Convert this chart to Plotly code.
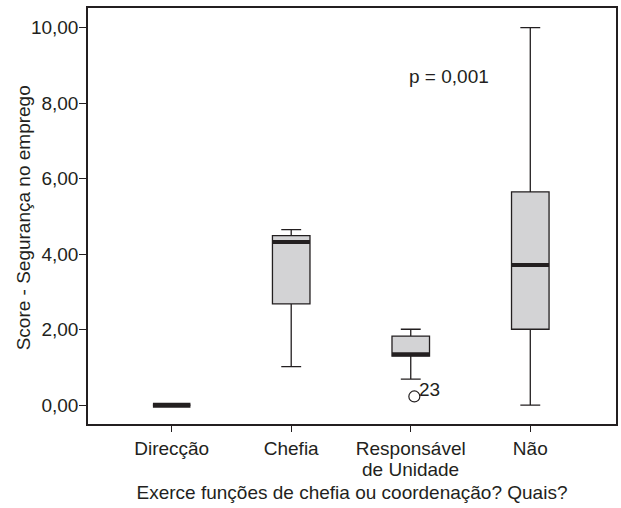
import plotly.graph_objects as go

categories = ["Direcção", "Chefia", "Responsável<br>de Unidade", "Não"]
lower_whisker = [0.0, 1.02, 0.69, 0.0]
q1 = [0.0, 2.68, 1.30, 2.01]
median = [0.0, 4.32, 1.35, 3.71]
q3 = [0.0, 4.49, 1.83, 5.65]
upper_whisker = [0.0, 4.65, 2.01, 10.0]
outlier_cat = ["Responsável<br>de Unidade"]
outlier_val = [0.23]
outlier_lbl = ["23"]
y_ticks = [0, 2, 4, 6, 8, 10]
p_text = "p = 0,001"
x_title = "Exerce funções de chefia ou coordenação? Quais?"
y_title = "Score - Segurança no emprego"

FONT = "Liberation Sans, Arial, sans-serif"
INK = "#231f20"
BOXW = 0.314
FS = 19

fig = go.Figure()
fig.add_trace(go.Box(
    x=categories, q1=q1, median=median, q3=q3,
    lowerfence=lower_whisker, upperfence=upper_whisker,
    fillcolor="#d3d3d5", line=dict(color=INK, width=1.3),
    width=BOXW, whiskerwidth=0.53, boxpoints=False, showlegend=False,
    hoverinfo="skip",
))
# thick median bars
for i, m in enumerate(median):
    w = 5 if q1[i] == q3[i] else 4
    fig.add_trace(go.Scatter(
        x=[i - BOXW / 2, i + BOXW / 2], y=[m, m], mode="lines",
        line=dict(color=INK, width=w), showlegend=False, hoverinfo="skip",
        xaxis="x2",
    ))
out_x = [categories.index(c) + 0.03 for c in outlier_cat]
fig.add_trace(go.Scatter(
    x=out_x, y=outlier_val, mode="markers", xaxis="x2",
    marker=dict(symbol="circle-open", size=11, color=INK, line=dict(width=1.2)),
    showlegend=False, hoverinfo="skip",
))

annotations = [dict(
    x=2.32, y=8.7, xref="x2", yref="y", text=p_text, showarrow=False,
    font=dict(family=FONT, size=FS, color=INK),
)]
for x, v, t in zip(out_x, outlier_val, outlier_lbl):
    annotations.append(dict(
        x=x, y=v, xref="x2", yref="y", text=t, showarrow=False,
        xanchor="left", yanchor="middle", xshift=3, yshift=7,
        font=dict(family=FONT, size=FS, color=INK),
    ))
# second lines of multi-line category labels, set tight under the first line
for i, c in enumerate(categories):
    parts = c.split("<br>")
    if len(parts) > 1:
        annotations.append(dict(
            x=i, y=0, xref="x2", yref="paper", text=parts[1], showarrow=False,
            xanchor="center", yanchor="top", yshift=-34, borderpad=0,
            font=dict(family=FONT, size=FS, color=INK),
        ))
# y axis title
annotations.append(dict(
    x=-0.1226, y=0.495, xref="paper", yref="paper", text=y_title,
    showarrow=False, textangle=-90, xanchor="center", yanchor="middle",
    font=dict(family=FONT, size=FS, color=INK),
))

xr = [-0.7, 3.717]
fig.update_layout(
    width=621, height=508,
    margin=dict(l=88, r=3, t=8, b=84),
    paper_bgcolor="white", plot_bgcolor="white",
    separators=", ",
    font=dict(family=FONT, size=FS, color=INK),
    xaxis=dict(
        type="category", range=xr, showgrid=False, zeroline=False,
        tickvals=categories, ticktext=[c.split("<br>")[0] for c in categories],
        showline=True, mirror=True, linecolor=INK, linewidth=1.5,
        ticks="outside", ticklen=6, tickcolor=INK, tickwidth=1.3,
        tickfont=dict(family=FONT, size=FS, color=INK),
        title=dict(text=x_title,
                   font=dict(family=FONT, size=FS, color=INK), standoff=28),
    ),
    xaxis2=dict(overlaying="x", range=xr, visible=False),
    yaxis=dict(
        range=[-0.5, 10.52], tickvals=y_ticks, tickformat=".2f",
        showgrid=False, zeroline=False,
        showline=True, mirror=True, linecolor=INK, linewidth=1.5,
        ticks="outside", ticklen=7, tickcolor=INK, tickwidth=1.3,
        ticklabelstandoff=-3,
        tickfont=dict(family=FONT, size=FS, color=INK),
    ),
    annotations=annotations,
)
fig.write_html("out.html")
